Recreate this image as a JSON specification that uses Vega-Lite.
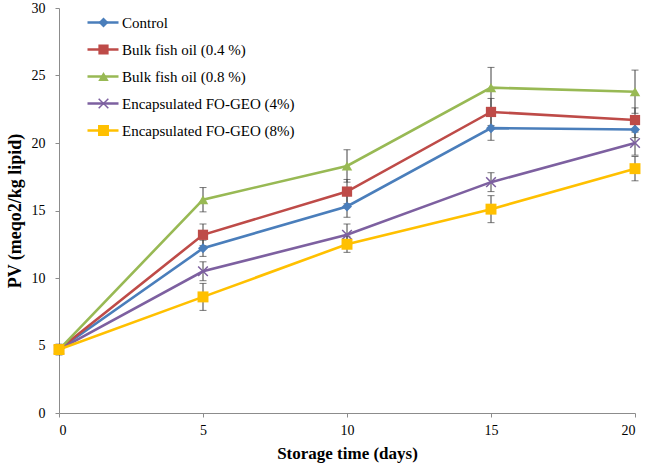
{
  "$schema": "https://vega.github.io/schema/vega-lite/v6.json",
  "width": 576,
  "height": 405,
  "autosize": "none",
  "padding": {"left": 59, "top": 8, "right": 11, "bottom": 55},
  "background": "white",
  "config": {
    "view": {"stroke": null},
    "font": "Liberation Serif",
    "text": {"font": "Liberation Serif"},
    "legend": {"labelFont": "Liberation Serif"},
    "axis": {
      "grid": false,
      "domainColor": "#8c8c8c",
      "tickColor": "#8c8c8c",
      "tickSize": 4,
      "labelFont": "Liberation Serif",
      "labelFontSize": 14,
      "labelColor": "#000000",
      "titleFont": "Liberation Serif",
      "titleFontSize": 17,
      "titleFontWeight": "bold",
      "titleColor": "#000000"
    }
  },
  "data": {
    "values": [
      {"series": "Control", "day": 0, "pv": 4.7, "sd": 0.3},
      {"series": "Control", "day": 5, "pv": 12.2, "sd": 0.6},
      {"series": "Control", "day": 10, "pv": 15.3, "sd": 0.8},
      {"series": "Control", "day": 15, "pv": 21.1, "sd": 0.9},
      {"series": "Control", "day": 20, "pv": 21.0, "sd": 0.6},
      {"series": "Bulk fish oil (0.4 %)", "day": 0, "pv": 4.7, "sd": 0.3},
      {"series": "Bulk fish oil (0.4 %)", "day": 5, "pv": 13.2, "sd": 0.8},
      {"series": "Bulk fish oil (0.4 %)", "day": 10, "pv": 16.4, "sd": 0.9},
      {"series": "Bulk fish oil (0.4 %)", "day": 15, "pv": 22.3, "sd": 1.0},
      {"series": "Bulk fish oil (0.4 %)", "day": 20, "pv": 21.7, "sd": 0.9},
      {"series": "Bulk fish oil (0.8 %)", "day": 0, "pv": 4.7, "sd": 0.4},
      {"series": "Bulk fish oil (0.8 %)", "day": 5, "pv": 15.8, "sd": 0.9},
      {"series": "Bulk fish oil (0.8 %)", "day": 10, "pv": 18.3, "sd": 1.2},
      {"series": "Bulk fish oil (0.8 %)", "day": 15, "pv": 24.1, "sd": 1.5},
      {"series": "Bulk fish oil (0.8 %)", "day": 20, "pv": 23.8, "sd": 1.6},
      {"series": "Encapsulated FO-GEO (4%)", "day": 0, "pv": 4.7, "sd": 0.3},
      {"series": "Encapsulated FO-GEO (4%)", "day": 5, "pv": 10.5, "sd": 0.7},
      {"series": "Encapsulated FO-GEO (4%)", "day": 10, "pv": 13.2, "sd": 0.8},
      {"series": "Encapsulated FO-GEO (4%)", "day": 15, "pv": 17.1, "sd": 0.7},
      {"series": "Encapsulated FO-GEO (4%)", "day": 20, "pv": 20.0, "sd": 0.9},
      {"series": "Encapsulated FO-GEO (8%)", "day": 0, "pv": 4.7, "sd": 0.3},
      {"series": "Encapsulated FO-GEO (8%)", "day": 5, "pv": 8.6, "sd": 1.0},
      {"series": "Encapsulated FO-GEO (8%)", "day": 10, "pv": 12.5, "sd": 0.6},
      {"series": "Encapsulated FO-GEO (8%)", "day": 15, "pv": 15.1, "sd": 1.0},
      {"series": "Encapsulated FO-GEO (8%)", "day": 20, "pv": 18.1, "sd": 0.9}
    ]
  },
  "encoding": {
    "x": {
      "field": "day", "type": "quantitative",
      "scale": {"domain": [0, 20], "nice": false},
      "axis": {"values": [0, 5, 10, 15, 20], "title": "Storage time (days)", "labelFont": "Liberation Serif", "labelPadding": 6, "titlePadding": 8}
    },
    "y": {
      "field": "pv", "type": "quantitative",
      "scale": {"domain": [0, 30], "nice": false},
      "axis": {"values": [0, 5, 10, 15, 20, 25, 30], "title": "PV (meqo2/kg lipid)", "labelFont": "Liberation Serif", "titleFontSize": 18, "labelPadding": 10, "titlePadding": 7}
    }
  },
  "layer": [
    {
      "mark": {"type": "errorbar", "ticks": {"size": 7}, "color": "#404040", "thickness": 1},
      "encoding": {
        "yError": {"field": "sd"},
        "detail": {"field": "series"}
      }
    },
    {
      "mark": {"type": "line", "strokeWidth": 2.6},
      "encoding": {
        "stroke": {
          "field": "series", "type": "nominal",
          "sort": ["Control", "Bulk fish oil (0.4 %)", "Bulk fish oil (0.8 %)", "Encapsulated FO-GEO (4%)", "Encapsulated FO-GEO (8%)"],
          "scale": {"range": ["#4a7ebb", "#be4b48", "#98b954", "#7d60a0", "#ffc000"]},
          "legend": {
            "title": null, "orient": "none", "legendX": 27, "legendY": 4.5,
            "symbolType": "stroke", "symbolSize": 961, "symbolStrokeWidth": 2.6,
            "labelFont": "Liberation Serif", "labelFontSize": 15, "labelColor": "#000000",
            "labelLimit": 400, "labelOffset": 2, "clipHeight": 20, "rowPadding": 7, "padding": 0
          }
        }
      }
    },
    {
      "mark": {"type": "point", "filled": true, "opacity": 1},
      "encoding": {
        "color": {
          "field": "series", "type": "nominal",
          "scale": {
            "domain": ["Control", "Bulk fish oil (0.4 %)", "Bulk fish oil (0.8 %)", "Encapsulated FO-GEO (4%)", "Encapsulated FO-GEO (8%)"],
            "range": ["#4a7ebb", "#be4b48", "#98b954", "#7d60a0", "#ffc000"]
          },
          "legend": {
            "title": null, "orient": "none", "legendX": 37, "legendY": 4.5,
            "labelExpr": "''", "labelFontSize": 15,
            "clipHeight": 20, "rowPadding": 7, "padding": 0, "symbolOpacity": 1
          }
        },
        "shape": {
          "field": "series", "type": "nominal",
          "scale": {
            "domain": ["Control", "Bulk fish oil (0.4 %)", "Bulk fish oil (0.8 %)", "Encapsulated FO-GEO (4%)", "Encapsulated FO-GEO (8%)"],
            "range": ["diamond", "square", "triangle-up", "M-0.8,-1L0,-0.2L0.8,-1L1,-0.8L0.2,0L1,0.8L0.8,1L0,0.2L-0.8,1L-1,0.8L-0.2,0L-1,-0.8Z", "square"]
          }
        },
        "size": {
          "field": "series", "type": "nominal",
          "scale": {
            "domain": ["Control", "Bulk fish oil (0.4 %)", "Bulk fish oil (0.8 %)", "Encapsulated FO-GEO (4%)", "Encapsulated FO-GEO (8%)"],
            "range": [100, 120, 150, 150, 170]
          }
        }
      }
    }
  ]
}
